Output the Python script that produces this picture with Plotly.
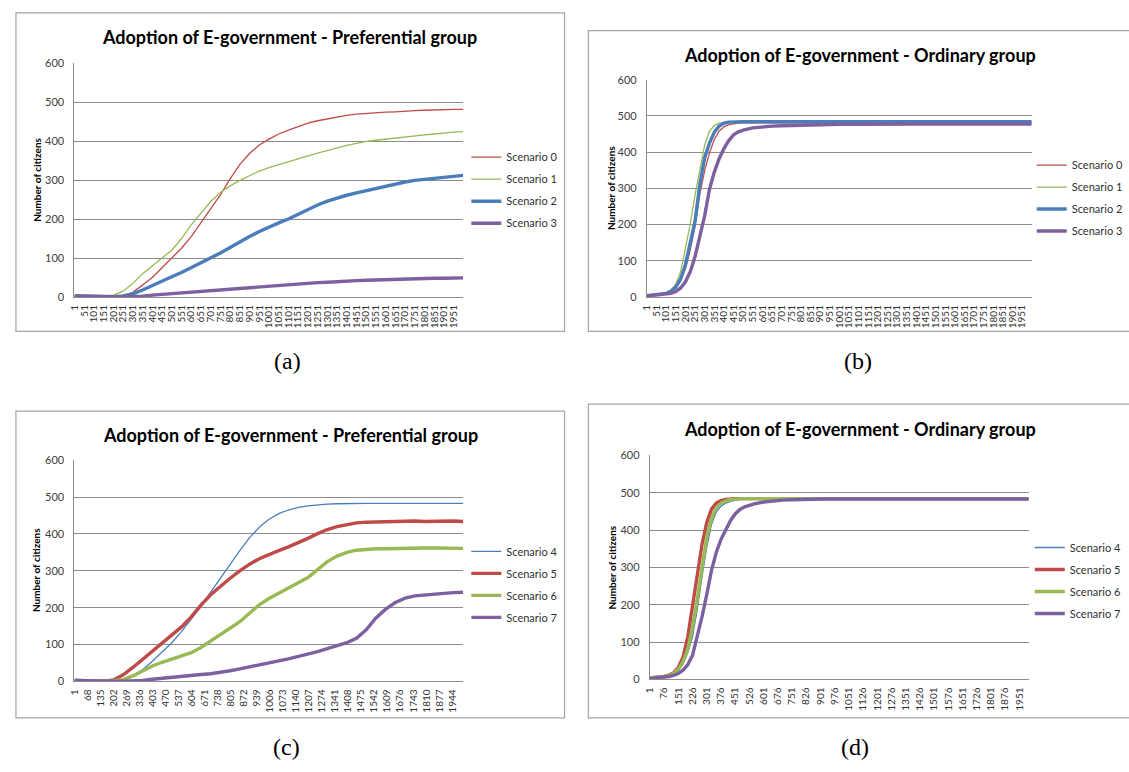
import plotly.graph_objects as go

W, H = 1129, 772

# ---------------- data (number of citizens adopting, by simulation step) ----------------
steps_fine = [1, 51, 101, 151, 201, 251, 301, 351, 401, 451, 501, 551, 601, 651, 701, 751,
              801, 851, 901, 951, 1001, 1051, 1101, 1151, 1201, 1251, 1301, 1351, 1401, 1451,
              1501, 1551, 1601, 1651, 1701, 1751, 1801, 1851, 1901, 1951, 2000]

steps_fast = [1, 26, 51, 76, 101, 126, 151, 176, 201, 226, 251, 276, 301, 326, 351, 376, 401,
              426, 451, 476, 501, 551, 601, 651, 701, 751, 801, 901, 1001, 1101, 1201, 1301,
              1401, 1501, 1601, 1701, 1801, 1901, 2000]

# (a) preferential group, scenarios 0-3
pref_s0 = [3, 2, 1, 1, 2, 4, 12, 30, 50, 75, 100, 125, 155, 190, 228, 262, 303, 340, 368, 390,
           405, 418, 428, 437, 446, 452, 457, 462, 466, 469, 471, 473, 474, 475, 477, 478, 479,
           480, 480, 481, 481]
pref_s1 = [3, 2, 1, 2, 5, 15, 35, 60, 80, 100, 120, 150, 185, 215, 245, 268, 285, 299, 312, 323,
           332, 340, 347, 355, 362, 369, 376, 382, 389, 394, 399, 402, 405, 408, 411, 414, 416,
           418, 421, 423, 424]
pref_s2 = [3, 2, 1, 1, 1, 3, 8, 18, 30, 42, 52, 63, 75, 88, 100, 113, 127, 142, 155, 168, 180,
           190, 200, 212, 225, 236, 246, 254, 261, 267, 273, 279, 284, 290, 295, 299, 302, 305,
           308, 311, 312]
pref_s3 = [3, 2, 1, 1, 1, 1, 1, 2, 5, 7, 9, 11, 13, 15, 17, 19, 21, 23, 25, 27, 29, 30, 31, 33,
           35, 37, 38, 40, 41, 42, 43, 44, 45, 45, 46, 47, 47, 48, 48, 49, 49]

# (b) ordinary group, scenarios 0-3
ord_s0 = [4, 5, 6, 7, 9, 14, 24, 45, 78, 130, 195, 285, 350, 398, 435, 458, 470, 476, 479, 480,
          481, 481, 481, 481, 481, 481, 481, 481, 481, 481, 481, 481, 481, 481, 481, 481, 481,
          481, 481]
ord_s1 = [4, 5, 6, 8, 12, 20, 35, 70, 135, 202, 282, 355, 420, 458, 474, 480, 482, 483, 483, 483,
          483, 483, 483, 483, 483, 483, 483, 483, 483, 483, 483, 483, 483, 483, 483, 483, 483,
          483, 483]
ord_s2 = [4, 5, 6, 7, 10, 16, 28, 50, 90, 150, 210, 312, 385, 425, 455, 472, 480, 483, 484, 484,
          484, 484, 484, 484, 484, 484, 484, 484, 484, 484, 484, 484, 484, 484, 484, 484, 484,
          484, 484]
ord_s3 = [3, 4, 5, 6, 8, 10, 15, 25, 42, 70, 112, 165, 225, 298, 345, 382, 410, 432, 448, 456,
          461, 467, 470, 472, 473, 474, 475, 476, 477, 477, 478, 478, 478, 478, 478, 478, 478,
          478, 478]

# (c) preferential group, scenarios 4-7
pref_s4 = [3, 2, 1, 1, 2, 5, 15, 32, 55, 80, 105, 135, 168, 203, 242, 280, 318, 355, 390, 418,
           440, 455, 465, 472, 476, 479, 481, 482, 483, 483, 483, 483, 483, 483, 483, 483, 483,
           483, 483, 483, 483]
pref_s5 = [3, 2, 1, 1, 4, 18, 38, 60, 82, 102, 125, 148, 175, 207, 235, 258, 280, 300, 318, 333,
           345, 355, 365, 376, 388, 401, 412, 420, 426, 430, 432, 433, 434, 434, 435, 435, 434,
           435, 435, 435, 434]
pref_s6 = [3, 2, 1, 1, 2, 5, 15, 28, 42, 52, 60, 68, 78, 92, 110, 128, 145, 162, 185, 208, 225,
           240, 255, 268, 282, 305, 325, 340, 350, 356, 359, 360, 360, 361, 361, 361, 362, 362,
           362, 362, 361]
pref_s7 = [3, 2, 1, 1, 1, 1, 1, 3, 6, 9, 12, 14, 17, 19, 21, 24, 29, 34, 40, 45, 50, 56, 61, 67,
           74, 81, 89, 96, 105, 117, 140, 172, 196, 214, 226, 232, 235, 237, 239, 241, 242]

# (d) ordinary group, scenarios 4-7
ord_s4 = [4, 5, 6, 7, 10, 14, 24, 42, 72, 115, 188, 275, 355, 415, 448, 464, 472, 477, 480, 482,
          483, 484, 484, 484, 484, 484, 484, 484, 484, 484, 484, 484, 484, 484, 484, 484, 484,
          484, 484]
ord_s5 = [4, 5, 6, 8, 12, 18, 32, 60, 115, 198, 285, 362, 420, 456, 472, 479, 482, 484, 484, 484,
          484, 484, 484, 484, 484, 484, 484, 484, 484, 484, 484, 484, 484, 484, 484, 484, 484,
          484, 484]
ord_s6 = [4, 5, 6, 8, 11, 16, 27, 48, 82, 140, 215, 305, 382, 430, 460, 472, 478, 481, 483, 484,
          484, 484, 484, 484, 484, 484, 484, 484, 484, 484, 484, 484, 484, 484, 484, 484, 484,
          484, 484]
ord_s7 = [3, 4, 5, 6, 8, 11, 16, 25, 40, 65, 115, 168, 228, 292, 340, 375, 400, 425, 443, 455,
          462, 470, 475, 478, 480, 481, 482, 483, 483, 483, 483, 483, 483, 483, 483, 483, 483,
          483, 483]

# category labels shown on the horizontal axes
ticks_50 = [1, 51, 101, 151, 201, 251, 301, 351, 401, 451, 501, 551, 601, 651, 701, 751, 801,
            851, 901, 951, 1001, 1051, 1101, 1151, 1201, 1251, 1301, 1351, 1401, 1451, 1501,
            1551, 1601, 1651, 1701, 1751, 1801, 1851, 1901, 1951]
ticks_67 = [1, 68, 135, 202, 269, 336, 403, 470, 537, 604, 671, 738, 805, 872, 939, 1006, 1073,
            1140, 1207, 1274, 1341, 1408, 1475, 1542, 1609, 1676, 1743, 1810, 1877, 1944]
ticks_75 = [1, 76, 151, 226, 301, 376, 451, 526, 601, 676, 751, 826, 901, 976, 1051, 1126, 1201,
            1276, 1351, 1426, 1501, 1576, 1651, 1726, 1801, 1876, 1951]

TITLE_PREF = "Adoption of E-government - Preferential group"
TITLE_ORD = "Adoption of E-government - Ordinary group"
Y_TITLE = "Number of citizens"

BLUE, RED, GREEN, PURPLE = "#4A7EBB", "#BE4B48", "#98B954", "#7D60A0"
THIN, THICK = 1.3, 3.4

# ---------------- panel geometry (pixels) ----------------
panels = [
    dict(key="", box=(9, 6, 562, 330), plot=(68, 460, 57, 295), title=(285, 31),
         ytitle=(30, 176), legend=(463, 138), caption=("(a)", 283, 360), ticks=ticks_50,
         steps=steps_fine,
         series=[("Scenario 0", pref_s0, RED, THIN), ("Scenario 1", pref_s1, GREEN, THIN),
                 ("Scenario 2", pref_s2, BLUE, THICK), ("Scenario 3", pref_s3, PURPLE, THICK)],
         text=TITLE_PREF),
    dict(key="2", box=(586, 24, 1140, 330), plot=(645, 1033, 74, 295), title=(860, 49),
         ytitle=(609, 184), legend=(1033, 146), caption=("(b)", 858, 360), ticks=ticks_50,
         steps=steps_fast,
         series=[("Scenario 0", ord_s0, RED, THIN), ("Scenario 1", ord_s1, GREEN, THIN),
                 ("Scenario 2", ord_s2, BLUE, THICK), ("Scenario 3", ord_s3, PURPLE, THICK)],
         text=TITLE_ORD),
    dict(key="3", box=(9, 411, 562, 723), plot=(68, 460, 461, 686), title=(286, 435),
         ytitle=(30, 573), legend=(463, 539), caption=("(c)", 282, 753), ticks=ticks_67,
         steps=steps_fine,
         series=[("Scenario 4", pref_s4, BLUE, THIN), ("Scenario 5", pref_s5, RED, THICK),
                 ("Scenario 6", pref_s6, GREEN, THICK), ("Scenario 7", pref_s7, PURPLE, THICK)],
         text=TITLE_PREF),
    dict(key="4", box=(586, 404, 1140, 723), plot=(648, 1030, 456, 684), title=(860, 429),
         ytitle=(610, 570), legend=(1031, 535), caption=("(d)", 855, 753), ticks=ticks_75,
         steps=steps_fast,
         series=[("Scenario 4", ord_s4, BLUE, THIN), ("Scenario 5", ord_s5, RED, THICK),
                 ("Scenario 6", ord_s6, GREEN, THICK), ("Scenario 7", ord_s7, PURPLE, THICK)],
         text=TITLE_ORD),
]


def fx(px):
    return px / W


def fy(py):
    return 1 - py / H


FONT = "Lato"
GRID = "#8C8C8C"
fig = go.Figure()
layout = dict(
    width=W, height=H, margin=dict(l=0, r=0, t=0, b=0),
    paper_bgcolor="white", plot_bgcolor="white",
    font=dict(family=FONT, color="#404040"),
    shapes=[], annotations=[],
)

for p in panels:
    k = p["key"]
    xa, ya = "x" + k, "y" + k
    lg = "legend" + k
    for i, (name, vals, color, width) in enumerate(p["series"]):
        fig.add_trace(go.Scatter(
            x=p["steps"], y=vals, mode="lines", name=name,
            line=dict(color=color, width=width),
            xaxis=xa, yaxis=ya, legend=lg, legendgroup=f"{lg}-{i}",
            hoverinfo="skip",
        ))
    x0, x1, ytop, ybot = p["plot"]
    layout["xaxis" + k] = dict(
        domain=[fx(x0), fx(x1)], anchor=ya, range=[0.5, 2000.5],
        tickmode="array", tickvals=p["ticks"], ticktext=[str(t) for t in p["ticks"]],
        tickangle=-90, tickfont=dict(size=10, color="#303030"), ticklabelstandoff=3,
        showgrid=False, zeroline=False, showline=True, linecolor=GRID, linewidth=1,
        ticks="", fixedrange=True,
    )
    layout["yaxis" + k] = dict(
        domain=[fy(ybot), fy(ytop)], anchor=xa, range=[0, 600], dtick=100,
        tickfont=dict(size=11, color="#404040"), ticklabelstandoff=7,
        showgrid=True, gridcolor=GRID, gridwidth=1, zeroline=False,
        showline=True, linecolor=GRID, linewidth=1, ticks="", fixedrange=True,
    )
    lx, ly = p["legend"]
    layout[lg] = dict(
        x=fx(lx), y=fy(ly), xanchor="left", yanchor="top",
        font=dict(family=FONT, size=11, color="#303030"),
        bgcolor="rgba(0,0,0,0)", borderwidth=0, tracegroupgap=3, itemwidth=30,
    )
    bx0, by0, bx1, by1 = p["box"]
    layout["shapes"].append(dict(
        type="rect", xref="paper", yref="paper",
        x0=fx(bx0), x1=fx(bx1), y0=fy(by1), y1=fy(by0),
        line=dict(color="#A5A5A5", width=1.2), fillcolor="rgba(0,0,0,0)", layer="below",
    ))
    tx, ty = p["title"]
    layout["annotations"].append(dict(
        text="<b>" + p["text"] + "</b>", x=fx(tx), y=fy(ty), xref="paper", yref="paper",
        xanchor="center", yanchor="middle", showarrow=False,
        font=dict(family=FONT, size=18, color="#000000"),
    ))
    ax_, ay_ = p["ytitle"]
    layout["annotations"].append(dict(
        text="<b>" + Y_TITLE + "</b>", x=fx(ax_), y=fy(ay_), xref="paper", yref="paper",
        xanchor="center", yanchor="middle", showarrow=False, textangle=-90,
        font=dict(family=FONT, size=10, color="#000000"),
    ))
    ctext, cx, cy = p["caption"]
    layout["annotations"].append(dict(
        text=ctext, x=fx(cx), y=fy(cy), xref="paper", yref="paper",
        xanchor="center", yanchor="middle", showarrow=False,
        font=dict(family="Liberation Serif", size=24, color="#000000"),
    ))

fig.update_layout(**layout)
fig.write_html("out.html")
